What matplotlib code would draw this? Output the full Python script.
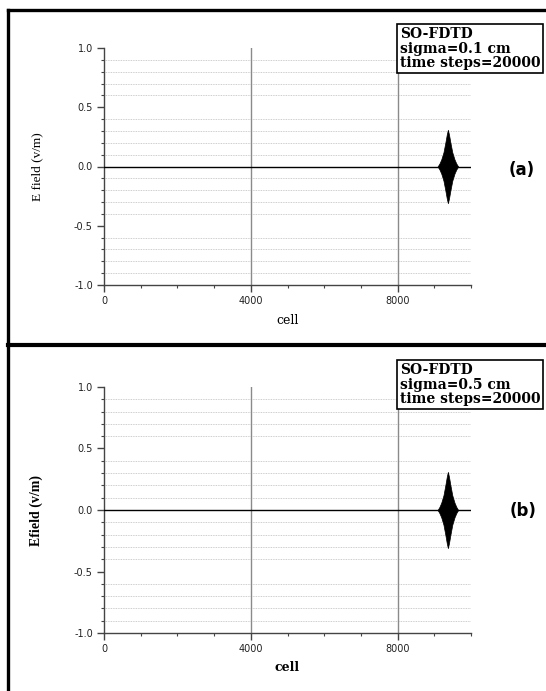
import numpy as np
import matplotlib.pyplot as plt
from matplotlib.lines import Line2D
from matplotlib.ticker import MultipleLocator

# line of the grid (E = 0 everywhere except the pulse)
line_cells = [0, 10000]
line_field = [0.0, 0.0]

# envelope of the gaussian pulse (cell, |E| max)
pulse_cells = [9090, 9140, 9190, 9250, 9300, 9340, 9370, 9400, 9440, 9490, 9550, 9600, 9650]
pulse_amp_a = [0.0, 0.025, 0.06, 0.12, 0.20, 0.27, 0.31, 0.27, 0.20, 0.12, 0.06, 0.025, 0.0]
pulse_amp_b = [0.0, 0.025, 0.06, 0.12, 0.20, 0.27, 0.31, 0.27, 0.20, 0.12, 0.06, 0.025, 0.0]

x_ticks = [0, 4000, 8000]
y_ticks = [-1.0, -0.5, 0.0, 0.5, 1.0]

box_a = "SO-FDTD\nsigma=0.1 cm\ntime steps=20000"
box_b = "SO-FDTD\nsigma=0.5 cm\ntime steps=20000"

W, H = 546, 691


def fx(px):
    return px / W


def fy(py):
    return 1 - py / H


def setup_axes(ax):
    ax.set_xlim(0, 10000)
    ax.set_ylim(-1.0, 1.0)
    ax.set_xticks(x_ticks)
    ax.set_xticklabels([str(t) for t in x_ticks])
    ax.set_yticks(y_ticks)
    ax.set_yticklabels(['%.1f' % t for t in y_ticks])
    ax.xaxis.set_minor_locator(MultipleLocator(1000))
    ax.yaxis.set_minor_locator(MultipleLocator(0.1))
    for s in ['top', 'right']:
        ax.spines[s].set_visible(False)
    for s in ['left', 'bottom']:
        ax.spines[s].set_color('#444444')
        ax.spines[s].set_linewidth(1.0)
    ax.tick_params(which='major', direction='out', length=5, width=1.0,
                   color='#444444', labelsize=7, labelcolor='#222222', pad=3)
    ax.tick_params(which='minor', direction='out', length=2.5, width=0.8, color='#444444')
    for lab in ax.get_xticklabels() + ax.get_yticklabels():
        lab.set_family('DejaVu Sans')
    # dotted grid on the minor y ticks only
    for v in np.arange(-0.9, 1.0, 0.1):
        if abs(v * 2 - round(v * 2)) < 1e-6:
            continue
        ax.axhline(v, color='#bdbdbd', lw=0.6, ls=(0, (1, 1)), zorder=0)
    for t in x_ticks[1:]:
        ax.axvline(t, color='#8a8a8a', lw=1.0, zorder=1)


def draw_panel(ax, amp):
    setup_axes(ax)
    ax.plot(line_cells, line_field, color='black', lw=1.0, zorder=3)
    ax.fill_between(pulse_cells, -np.array(amp), amp, color='black', lw=0.5, zorder=4)


fig = plt.figure(figsize=(W / 100, H / 100), dpi=100)

ax1 = fig.add_axes([fx(104), fy(285), fx(471) - fx(104), fy(48) - fy(285)])
draw_panel(ax1, pulse_amp_a)
ax1.set_xlabel('cell', family='DejaVu Serif', fontsize=9, labelpad=6)
ax1.set_ylabel('E field (v/m)', family='Liberation Serif', fontsize=9.5, labelpad=22)

ax2 = fig.add_axes([fx(104), fy(633), fx(471) - fx(104), fy(387) - fy(633)])
draw_panel(ax2, pulse_amp_b)
ax2.set_xlabel('cell', family='DejaVu Serif', fontsize=9, fontweight='bold', labelpad=5)
ax2.set_ylabel('Efield (v/m)', family='Liberation Serif', fontsize=10, fontweight='bold', labelpad=22)

# legend-like text boxes
for txt, top in [(box_a, 24), (box_b, 360)]:
    fig.text(fx(400), fy(top + 3), txt, ha='left', va='top', family='DejaVu Serif',
             fontweight='bold', fontsize=10, linespacing=1.05,
             bbox=dict(boxstyle='square,pad=0.2', fc='white', ec='black', lw=1.2))

fig.text(fx(522), fy(170), '(a)', ha='center', va='center', family='DejaVu Sans',
         fontweight='bold', fontsize=12)
fig.text(fx(523), fy(511), '(b)', ha='center', va='center', family='DejaVu Sans',
         fontweight='bold', fontsize=12)

# outer frame of the two panels
fig.add_artist(Line2D([fx(7.5), fx(7.5)], [fy(10), 0], color='black', lw=2.4))
fig.add_artist(Line2D([fx(7.5), 1], [fy(10), fy(10)], color='black', lw=2.4))
fig.add_artist(Line2D([fx(7.5), 1], [fy(345), fy(345)], color='black', lw=3.0))

fig.savefig('out.png', dpi=100)
